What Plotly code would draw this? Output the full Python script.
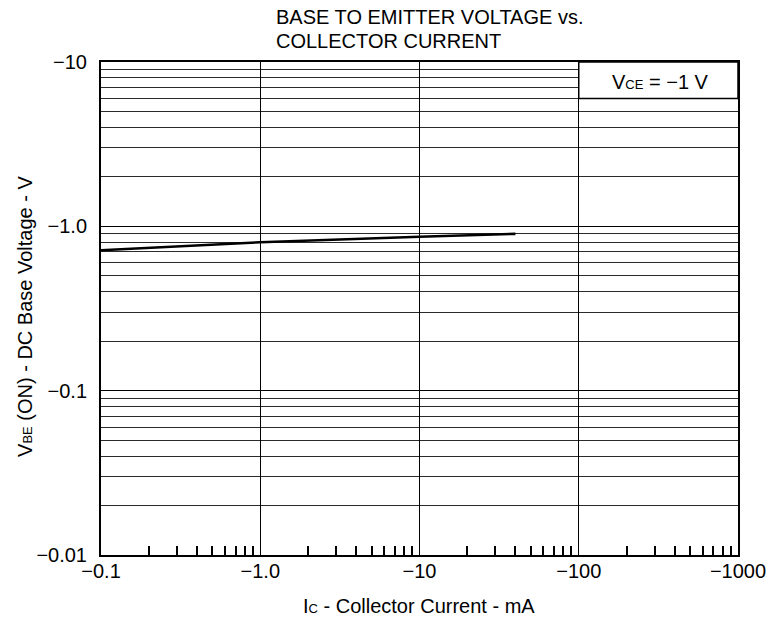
import plotly.graph_objects as go

# Data (magnitudes; axes are labelled negative)
ic_ma = [0.1, 1.0, 10.0, 40.0]
vbe_v = [0.716, 0.80, 0.865, 0.90]

x_tickvals = [0.1, 1, 10, 100, 1000]
x_ticktext = ["\u22120.1", "\u22121.0", "\u221210", "\u2212100", "\u22121000"]
y_tickvals = [0.01, 0.1, 1, 10]
y_ticktext = ["\u22120.01", "\u22120.1", "\u22121.0", "\u221210"]

FONT = "Liberation Sans, Arial, sans-serif"
FS = 20

# page layout in page pixels (body margin removed below, so figure sits at 0,0)
OFF = 0
W, H = 778, 628
PL, PR, PT, PB = 101, 746, 62, 555          # plot box on the page
ML, MT = PL - OFF, PT - OFF
MR = W - ML - (PR - PL)
MB = H - MT - (PB - PT)


def px(xp):
    return (xp - PL) / (PR - PL)


def py(yp):
    return (PB - yp) / (PB - PT)


x_minor = [m * 10.0 ** d for d in range(-1, 3) for m in range(2, 10)]
y_minor = [m * 10.0 ** d for d in range(-2, 1) for m in range(2, 10)]

fig = go.Figure()
fig.add_trace(go.Scatter(x=ic_ma, y=vbe_v, mode="lines",
                         line=dict(color="black", width=2.6),
                         showlegend=False, hoverinfo="skip"))

fig.update_xaxes(type="log", range=[-1, 3],
                 tickmode="array", tickvals=x_tickvals, ticktext=x_ticktext,
                 ticks="", ticklabelstandoff=-3,
                 showgrid=True, gridcolor="black", gridwidth=1,
                 showline=True, linecolor="black", linewidth=2, mirror=True,
                 zeroline=False,
                 tickfont=dict(family=FONT, size=FS, color="black"),
                 minor=dict(tickmode="array", tickvals=x_minor, ticks="inside",
                            ticklen=9, tickcolor="black", tickwidth=1.5, showgrid=False))

fig.update_yaxes(type="log", range=[-2, 1],
                 tickmode="array", tickvals=y_tickvals, ticktext=y_ticktext,
                 ticks="", ticklabelstandoff=8,
                 showgrid=True, gridcolor="black", gridwidth=1,
                 showline=True, linecolor="black", linewidth=2, mirror=True,
                 zeroline=False,
                 tickfont=dict(family=FONT, size=FS, color="black"),
                 minor=dict(tickmode="array", tickvals=y_minor, ticks="",
                            showgrid=True, gridcolor="#2a2a2a", gridwidth=1))

# Condition box in the upper-right corner
box_x = [100, 1000]
box_y = [6, 10]
fig.add_shape(type="rect", xref="x", yref="y",
              x0=box_x[0], x1=box_x[1], y0=box_y[0], y1=box_y[1],
              fillcolor="white", line=dict(color="black", width=1.5), layer="above")

sub = "<span style='font-size:13px'>{}</span>"

annots = [
    dict(text="V" + sub.format("CE") + " = \u22121 V", x=px(668), y=py(82),
         xanchor="center", yanchor="middle"),
    dict(text="BASE TO EMITTER VOLTAGE vs.", x=px(276), y=py(17),
         xanchor="left", yanchor="middle"),
    dict(text="COLLECTOR CURRENT", x=px(276), y=py(41),
         xanchor="left", yanchor="middle"),
    dict(text="I" + sub.format("C") + " - Collector Current - mA", x=px(423), y=py(606),
         xanchor="center", yanchor="middle"),
    dict(text="V" + sub.format("BE") + " (ON) - DC Base Voltage - V", x=px(24), y=py(316),
         xanchor="center", yanchor="middle", textangle=-90),
]
for a in annots:
    fig.add_annotation(xref="paper", yref="paper", showarrow=False,
                       font=dict(family=FONT, size=FS, color="black"), **a)

fig.update_layout(
    width=W, height=H,
    margin=dict(l=ML, r=MR, t=MT, b=MB),
    paper_bgcolor="white", plot_bgcolor="white",
    font=dict(family=FONT, color="black"),
)

fig.write_html("out.html",
               config={"displayModeBar": False},
               post_script="document.body.style.margin='0';"
                           "document.body.style.overflow='hidden';")
